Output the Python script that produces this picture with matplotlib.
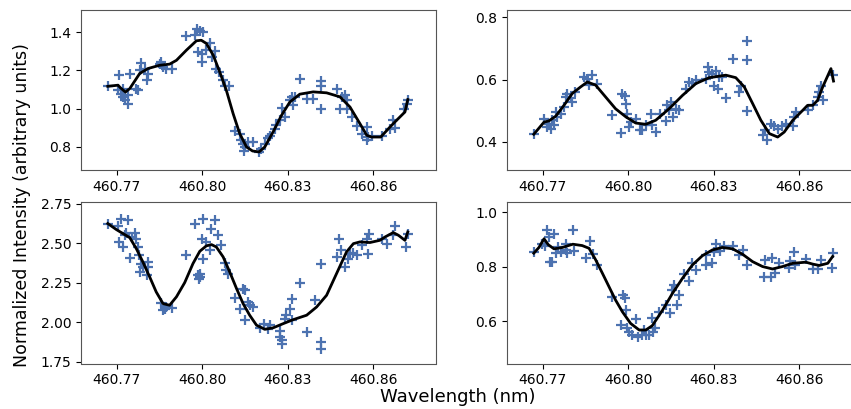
"""Four-panel spectral line fits: normalized intensity vs wavelength."""
import matplotlib

matplotlib.use("Agg")
import matplotlib.pyplot as plt

POINT_COLOR = "#4c72b0"
LINE_COLOR = "black"
XTICKS = [460.77, 460.80, 460.83, 460.86]
XTICK_LABELS = ["460.77", "460.80", "460.83", "460.86"]
XLIM = (460.7574, 460.882)

# panel 1 (top left)
p1_x = [460.7668, 460.7707, 460.7704, 460.7715, 460.7721, 460.7723, 460.7729, 460.7739,
        460.7739, 460.7747, 460.7766, 460.7774, 460.7780, 460.7786, 460.7797, 460.7809,
        460.7807, 460.7850, 460.7856, 460.7862, 460.7873, 460.7895, 460.7941, 460.7973,
        460.7981, 460.7991, 460.8002, 460.7985, 460.7997, 460.7997, 460.8014, 460.8026,
        460.8035, 460.8043, 460.8049, 460.8059, 460.8073, 460.8079, 460.8094, 460.8114,
        460.8131, 460.8137, 460.8143, 460.8149, 460.8147, 460.8161, 460.8176, 460.8200,
        460.8207, 460.8219, 460.8231, 460.8237, 460.8254, 460.8260, 460.8272, 460.8278,
        460.8290, 460.8307, 460.8313, 460.8319, 460.8325, 460.8342, 460.8366, 460.8389,
        460.8418, 460.8416, 460.8418, 460.8471, 460.8483, 460.8489, 460.8501, 460.8506,
        460.8509, 460.8524, 460.8541, 460.8559, 460.8577, 460.8577, 460.8583, 460.8594,
        460.8629, 460.8659, 460.8670, 460.8676, 460.8706, 460.8717, 460.8723]
p1_y = [1.117, 1.175, 1.097, 1.079, 1.062, 1.105, 1.044, 1.027, 1.070, 1.180, 1.105,
        1.097, 1.200, 1.240, 1.210, 1.180, 1.150, 1.236, 1.245, 1.218, 1.210, 1.210,
        1.379, 1.384, 1.419, 1.407, 1.402, 1.297, 1.288, 1.245, 1.306, 1.341, 1.271,
        1.302, 1.210, 1.192, 1.149, 1.117, 1.117, 0.884, 0.866, 0.838, 0.814, 0.800,
        0.779, 0.826, 0.826, 0.774, 0.791, 0.817, 0.849, 0.856, 0.896, 0.913, 0.940,
        1.006, 0.957, 1.044, 1.062, 1.018, 1.062, 1.156, 1.053, 1.053, 1.144, 1.117,
        1.000, 1.105, 1.000, 1.062, 1.070, 1.000, 1.048, 0.957, 0.908, 0.870, 0.905,
        0.838, 0.852, 0.856, 0.856, 0.896, 0.943, 0.900, 1.000, 1.027, 1.044]
p1_fit_x = [460.7668, 460.7704, 460.7712, 460.7730, 460.7745, 460.7780, 460.7809,
            460.7850, 460.7885, 460.7909, 460.7944, 460.7979, 460.7996, 460.8014,
            460.8038, 460.8061, 460.8084, 460.8108, 460.8131, 460.8155, 460.8176,
            460.8199, 460.8219, 460.8248, 460.8278, 460.8307, 460.8342, 460.8389,
            460.8436, 460.8483, 460.8518, 460.8553, 460.8577, 460.8594, 460.8626,
            460.8659, 460.8682, 460.8711, 460.8721]
p1_fit_y = [1.117, 1.123, 1.110, 1.087, 1.105, 1.184, 1.210, 1.227, 1.233, 1.253, 1.306,
            1.355, 1.358, 1.341, 1.280, 1.192, 1.097, 0.974, 0.870, 0.800, 0.779, 0.774,
            0.800, 0.878, 0.966, 1.035, 1.076, 1.088, 1.083, 1.062, 1.009, 0.922, 0.861,
            0.852, 0.852, 0.905, 0.940, 0.983, 1.048]

# panel 2 (top right)
p2_x = [460.7668, 460.7704, 460.7715, 460.7721, 460.7727, 460.7733, 460.7739, 460.7745,
        460.7750, 460.7762, 460.7774, 460.7780, 460.7786, 460.7797, 460.7803, 460.7813,
        460.7844, 460.7856, 460.7862, 460.7874, 460.7891, 460.7941, 460.7973, 460.7979,
        460.7988, 460.7991, 460.7996, 460.8002, 460.8008, 460.8026, 460.8040, 460.8049,
        460.8061, 460.8079, 460.8084, 460.8096, 460.8110, 460.8131, 460.8137, 460.8143,
        460.8149, 460.8155, 460.8166, 460.8178, 460.8202, 460.8213, 460.8225, 460.8237,
        460.8272, 460.8278, 460.8284, 460.8295, 460.8301, 460.8307, 460.8313, 460.8319,
        460.8330, 460.8342, 460.8366, 460.8387, 460.8395, 460.8418, 460.8418, 460.8418,
        460.8471, 460.8480, 460.8485, 460.8500, 460.8512, 460.8524, 460.8539, 460.8553,
        460.8577, 460.8582, 460.8588, 460.8629, 460.8647, 460.8664, 460.8670, 460.8676,
        460.8682, 460.8717]
p2_y = [0.426, 0.474, 0.447, 0.458, 0.442, 0.469, 0.453, 0.496, 0.480, 0.490, 0.512,
        0.544, 0.555, 0.539, 0.528, 0.560, 0.609, 0.603, 0.582, 0.614, 0.587, 0.485,
        0.428, 0.555, 0.546, 0.520, 0.490, 0.447, 0.463, 0.474, 0.437, 0.437, 0.453,
        0.490, 0.453, 0.431, 0.490, 0.467, 0.517, 0.501, 0.528, 0.480, 0.506, 0.503,
        0.571, 0.592, 0.589, 0.598, 0.603, 0.641, 0.625, 0.619, 0.578, 0.628, 0.568,
        0.609, 0.609, 0.542, 0.665, 0.560, 0.578, 0.498, 0.662, 0.724, 0.420, 0.439,
        0.404, 0.458, 0.449, 0.442, 0.449, 0.456, 0.449, 0.480, 0.496, 0.501, 0.517,
        0.544, 0.560, 0.578, 0.533, 0.614]
p2_fit_x = [460.7668, 460.7704, 460.7721, 460.7745, 460.7774, 460.7803, 460.7832,
            460.7856, 460.7885, 460.7920, 460.7955, 460.7991, 460.8026, 460.8061,
            460.8096, 460.8143, 460.8190, 460.8237, 460.8284, 460.8342, 460.8377,
            460.8407, 460.8436, 460.8465, 460.8495, 460.8524, 460.8547, 460.8577,
            460.8612, 460.8629, 460.8647, 460.8664, 460.8682, 460.8711, 460.8720]
p2_fit_y = [0.424, 0.463, 0.467, 0.482, 0.517, 0.555, 0.576, 0.592, 0.582, 0.544, 0.506,
            0.480, 0.460, 0.456, 0.469, 0.506, 0.549, 0.587, 0.606, 0.614, 0.606, 0.576,
            0.523, 0.469, 0.426, 0.415, 0.431, 0.469, 0.501, 0.517, 0.517, 0.533, 0.576,
            0.635, 0.595]

# panel 3 (bottom left)
p3_x = [460.7668, 460.7704, 460.7709, 460.7715, 460.7721, 460.7727, 460.7733, 460.7739,
        460.7745, 460.7754, 460.7762, 460.7766, 460.7774, 460.7777, 460.7786, 460.7780,
        460.7791, 460.7805, 460.7809, 460.7809, 460.7856, 460.7862, 460.7868, 460.7873,
        460.7895, 460.7941, 460.7973, 460.7985, 460.7988, 460.7991, 460.7993, 460.8002,
        460.8002, 460.8000, 460.8014, 460.8026, 460.8032, 460.8043, 460.8055, 460.8064,
        460.8079, 460.8084, 460.8090, 460.8114, 460.8131, 460.8143, 460.8149, 460.8149,
        460.8161, 460.8166, 460.8176, 460.8202, 460.8216, 460.8231, 460.8237, 460.8272,
        460.8274, 460.8278, 460.8281, 460.8289, 460.8295, 460.8307, 460.8313, 460.8316,
        460.8342, 460.8366, 460.8395, 460.8418, 460.8418, 460.8418, 460.8471, 460.8481,
        460.8485, 460.8500, 460.8512, 460.8518, 460.8530, 460.8544, 460.8559, 460.8577,
        460.8582, 460.8586, 460.8629, 460.8647, 460.8670, 460.8676, 460.8715, 460.8721]
p3_y = [2.624, 2.609, 2.508, 2.655, 2.476, 2.550, 2.567, 2.645, 2.407, 2.539, 2.567,
        2.529, 2.476, 2.424, 2.371, 2.318, 2.350, 2.302, 2.382, 2.350, 2.125, 2.076,
        2.087, 2.097, 2.091, 2.428, 2.624, 2.297, 2.276, 2.308, 2.287, 2.403, 2.651,
        2.529, 2.508, 2.455, 2.592, 2.645, 2.550, 2.487, 2.377, 2.329, 2.308, 2.154,
        2.087, 2.209, 2.203, 2.013, 2.129, 2.108, 2.097, 1.965, 1.992, 1.956, 1.982,
        1.944, 1.908, 1.887, 1.866, 2.024, 2.045, 2.087, 2.150, 2.013, 2.251, 1.939,
        2.139, 1.876, 1.834, 2.371, 2.413, 2.525, 2.455, 2.350, 2.403, 2.434, 2.441,
        2.428, 2.487, 2.529, 2.434, 2.561, 2.525, 2.497, 2.550, 2.609, 2.476, 2.561]
p3_fit_x = [460.7668, 460.7698, 460.7721, 460.7745, 460.7768, 460.7791, 460.7815,
            460.7838, 460.7862, 460.7885, 460.7909, 460.7938, 460.7967, 460.7991,
            460.8014, 460.8032, 460.8049, 460.8073, 460.8096, 460.8120, 460.8143,
            460.8166, 460.8190, 460.8219, 460.8248, 460.8284, 460.8319, 460.8366,
            460.8401, 460.8436, 460.8471, 460.8506, 460.8530, 460.8553, 460.8588,
            460.8623, 460.8641, 460.8670, 460.8688, 460.8711, 460.8721]
p3_fit_y = [2.624, 2.586, 2.561, 2.535, 2.466, 2.382, 2.287, 2.192, 2.118, 2.108, 2.161,
            2.251, 2.371, 2.449, 2.483, 2.491, 2.476, 2.413, 2.318, 2.213, 2.118, 2.045,
            1.982, 1.956, 1.965, 1.992, 2.017, 2.045, 2.097, 2.171, 2.308, 2.445, 2.497,
            2.508, 2.504, 2.518, 2.539, 2.567, 2.550, 2.518, 2.571]

# panel 4 (bottom right)
p4_x = [460.7668, 460.7698, 460.7707, 460.7715, 460.7721, 460.7725, 460.7733, 460.7739,
        460.7745, 460.7754, 460.7762, 460.7780, 460.7782, 460.7786, 460.7805, 460.7809,
        460.7850, 460.7864, 460.7876, 460.7891, 460.7941, 460.7973, 460.7981, 460.7988,
        460.7993, 460.7996, 460.8002, 460.8014, 460.8026, 460.8035, 460.8047, 460.8055,
        460.8061, 460.8073, 460.8082, 460.8087, 460.8094, 460.8108, 460.8131, 460.8145,
        460.8152, 460.8161, 460.8170, 460.8176, 460.8196, 460.8213, 460.8223, 460.8237,
        460.8272, 460.8274, 460.8293, 460.8301, 460.8307, 460.8321, 460.8336, 460.8366,
        460.8387, 460.8403, 460.8418, 460.8477, 460.8480, 460.8500, 460.8504, 460.8516,
        460.8530, 460.8565, 460.8567, 460.8582, 460.8586, 460.8623, 460.8647, 460.8664,
        460.8676, 460.8715, 460.8717]
p4_y = [0.853, 0.882, 0.874, 0.935, 0.907, 0.818, 0.818, 0.919, 0.849, 0.870, 0.855,
        0.861, 0.882, 0.849, 0.935, 0.858, 0.833, 0.892, 0.845, 0.806, 0.690, 0.585,
        0.696, 0.686, 0.640, 0.573, 0.558, 0.548, 0.607, 0.542, 0.548, 0.567, 0.548,
        0.548, 0.610, 0.561, 0.573, 0.634, 0.659, 0.628, 0.714, 0.733, 0.659, 0.696,
        0.772, 0.747, 0.812, 0.788, 0.806, 0.843, 0.812, 0.855, 0.882, 0.858, 0.877,
        0.877, 0.843, 0.861, 0.806, 0.763, 0.825, 0.763, 0.831, 0.775, 0.812, 0.796,
        0.821, 0.853, 0.804, 0.828, 0.791, 0.791, 0.825, 0.796, 0.849]
p4_fit_x = [460.7668, 460.7686, 460.7704, 460.7719, 460.7739, 460.7768, 460.7805,
            460.7838, 460.7862, 460.7885, 460.7909, 460.7932, 460.7955, 460.7979,
            460.8008, 460.8038, 460.8061, 460.8084, 460.8120, 460.8155, 460.8190,
            460.8225, 460.8260, 460.8295, 460.8330, 460.8366, 460.8401, 460.8436,
            460.8471, 460.8506, 460.8541, 460.8577, 460.8623, 460.8647, 460.8670,
            460.8700, 460.8717]
p4_fit_y = [0.849, 0.870, 0.902, 0.880, 0.865, 0.870, 0.882, 0.877, 0.867, 0.825, 0.775,
            0.726, 0.677, 0.634, 0.591, 0.567, 0.567, 0.583, 0.640, 0.702, 0.757, 0.806,
            0.840, 0.861, 0.870, 0.865, 0.845, 0.818, 0.800, 0.791, 0.800, 0.812, 0.816,
            0.809, 0.804, 0.812, 0.837]

PANELS = [
    (p1_x, p1_y, p1_fit_x, p1_fit_y, (0.677, 1.516), [0.8, 1.0, 1.2, 1.4], "{:.1f}"),
    (p2_x, p2_y, p2_fit_x, p2_fit_y, (0.3074, 0.8236), [0.4, 0.6, 0.8], "{:.1f}"),
    (p3_x, p3_y, p3_fit_x, p3_fit_y, (1.74, 2.76), [1.75, 2.00, 2.25, 2.50, 2.75], "{:.2f}"),
    (p4_x, p4_y, p4_fit_x, p4_fit_y, (0.444, 1.037), [0.6, 0.8, 1.0], "{:.1f}"),
]

W, H = 851, 409
# axes boxes in pixels: left, top, width, height (right column runs past the edge)
BOXES = [(81, 10, 355, 160.5), (507, 10, 355, 160.5),
         (81, 202, 355, 161.5), (507, 202, 355, 161.5)]

fig = plt.figure(figsize=(W / 100, H / 100), dpi=100)
fig.patch.set_facecolor("white")

for (xs, ys, fx, fy, ylim, yticks, fmt), (l, t, w, h) in zip(PANELS, BOXES):
    ax = fig.add_axes([l / W, 1 - (t + h) / H, w / W, h / H])
    ax.scatter(xs, ys, marker="+", s=55, linewidths=1.6, color=POINT_COLOR, zorder=2)
    ax.plot(fx, fy, color=LINE_COLOR, linewidth=2.0, zorder=3)
    ax.set_xlim(*XLIM)
    ax.set_ylim(*ylim)
    ax.set_xticks(XTICKS)
    ax.set_xticklabels(XTICK_LABELS)
    ax.set_yticks(yticks)
    ax.set_yticklabels([fmt.format(v) for v in yticks])
    ax.tick_params(labelsize=10)
    for sp in ax.spines.values():
        sp.set_color("#555555")

fig.text(458 / W, 1 - 397 / H, "Wavelength (nm)", ha="center", va="center", fontsize=13)
fig.text(22 / W, 1 - 205 / H, "Normalized Intensity (arbitrary units)", ha="center",
         va="center", rotation=90, fontsize=12.5)

fig.savefig("out.png", dpi=100)
